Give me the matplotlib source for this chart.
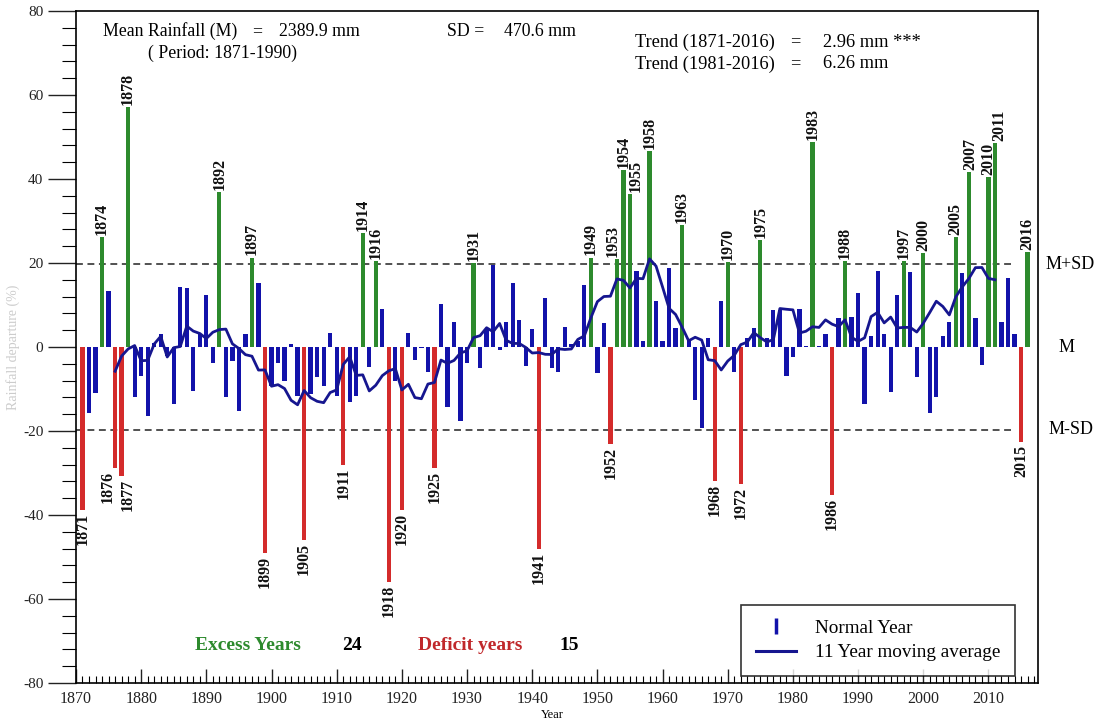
import numpy as np
import pandas as pd
import matplotlib
matplotlib.use('Agg')
import matplotlib.pyplot as plt
from matplotlib.lines import Line2D

plt.rcParams['font.family'] = ['Liberation Serif', 'DejaVu Serif']
plt.rcParams['axes.unicode_minus'] = False

# percentage departure from mean, one value per year 1871-2016
years = np.arange(1871, 2017)
departure = [
    -38.7, -15.7, -10.9, 26.2, 13.4, -28.7, -30.7, 57.1, -12.0,          # 1871-1879
    -6.9, -16.5, 1.0, 3.0, -2.1, -13.5, 14.3, 14.0, -10.4, 3.0,          # 1880s
    12.4, -3.9, 36.9, -12.0, -3.3, -15.3, 3.0, 21.3, 15.2, -49.0,        # 1890s
    -9.2, -3.7, -8.0, 0.6, -11.6, -46.0, -11.2, -7.2, -9.4, 3.4,         # 1900s
    -11.6, -28.1, -13.1, -11.6, 27.2, -4.7, 20.5, 9.1, -56.0, -8.0,      # 1910s
    -38.7, 3.4, -3.1, -0.3, -6.0, -28.7, 10.2, -14.3, 6.0, -17.5,        # 1920s
    -3.9, 20.0, -5.1, 4.4, 19.5, -0.6, 6.0, 15.2, 6.5, -4.5,             # 1930s
    4.2, -48.0, 11.7, -5.0, -6.0, 4.8, 0.6, 1.4, 14.8, 21.3,             # 1940s
    -6.3, 5.6, -23.0, 21.0, 42.2, 36.5, 18.2, 1.4, 46.7, 11.0,           # 1950s
    1.4, 18.9, 4.6, 29.0, 2.0, -12.6, -19.4, 2.2, -31.8, 11.0,           # 1960s
    20.3, -6.0, -32.6, 2.2, 4.6, 25.4, 2.2, 8.7, 8.9, -7.0,              # 1970s
    -2.3, 9.1, 0.3, 48.7, 0.3, 3.0, -35.2, 6.8, 20.5, 7.1,               # 1980s
    12.8, -13.5, 2.6, 18.2, 3.0, -10.6, 12.4, 20.5, 17.8, -7.1,          # 1990s
    22.3, -15.7, -12.0, 2.6, 6.0, 26.2, 17.6, 41.7, 6.8, -4.3,           # 2000s
    40.4, 48.5, 6.0, 16.4, 3.0, -22.6, 22.7,                             # 2010-2016
]
mean_rain = 2389.9
sd_rain = 470.6

dep = pd.Series(departure, index=years)
sd_pct = sd_rain / mean_rain * 100
mov_avg = dep.rolling(11, center=True).mean()

excess = dep >= sd_pct
deficit = dep <= -sd_pct
normal = ~(excess | deficit)

# small sideways nudges so crowded year labels don't collide
label_shift = {1876: -1.1, 1877: 0.9, 1953: -0.6, 1955: 0.8, 2007: 0.3, 2011: 0.7}

fig = plt.figure(figsize=(11.06, 7.21), dpi=100)
ax = fig.add_axes([0.0687, 0.0527, 0.8698, 0.932])

bw = 0.65
blue, green, red = '#1212aa', '#2d8a2d', '#d42b2b'
ax.bar(years[normal], dep[normal], width=bw, color=blue, zorder=2)
ax.bar(years[excess], dep[excess], width=bw, color=green, zorder=2)
ax.bar(years[deficit], dep[deficit], width=bw, color=red, zorder=2)

ax.plot(years, mov_avg, color='#16168f', lw=2.0, zorder=3)

ax.hlines([sd_pct, -sd_pct], 1870, 2013.8, colors='#222222', linestyles=(0, (4.5, 3)),
          lw=1.1, zorder=1)

# year labels on excess and deficit bars
for yr, v in dep[excess].items():
    ax.text(yr + label_shift.get(yr, 0), v + 0.5, str(yr), rotation=90, ha='center',
            va='bottom', fontsize=11.5, fontweight='bold', color='#111111')
for yr, v in dep[deficit].items():
    ax.text(yr + label_shift.get(yr, 0), v - 0.7, str(yr), rotation=90, ha='center',
            va='top', fontsize=11.5, fontweight='bold', color='#111111')

ax.set_xlim(1870, 2017.6)
ax.set_ylim(-80, 80)
ax.set_xticks(np.arange(1870, 2011, 10))
ax.set_xticks(np.arange(1870, 2018, 1), minor=True)
ax.set_yticks(np.arange(-80, 81, 20))
ax.set_yticks(np.arange(-80, 81, 4), minor=True)
ax.tick_params(axis='x', which='major', direction='in', length=10, width=1,
               labelsize=11.5, pad=6, colors='#222222')
ax.tick_params(axis='x', which='minor', direction='in', length=5, width=0.8)
ax.tick_params(axis='y', which='major', direction='out', length=20, width=1,
               labelsize=11, colors='#222222')
ax.tick_params(axis='y', which='minor', direction='out', length=10, width=0.8)
for s in ax.spines.values():
    s.set_linewidth(1.2)

ax.set_xlabel('Year', fontsize=9)
ax.xaxis.set_label_coords(0.495, -0.038)
ax.set_ylabel('Rainfall departure (%)', fontsize=10, color='#cccccc')
ax.yaxis.set_label_coords(-0.058, 0.5)

# header texts
hs = 12.8
ax.text(1874.1, 75.2, 'Mean Rainfall (M)', fontsize=hs, va='center')
ax.text(1897.1, 75.2, '=', fontsize=hs, va='center')
ax.text(1901.2, 75.2, '2389.9 mm', fontsize=hs, va='center')
ax.text(1881.0, 70.0, '( Period: 1871-1990)', fontsize=hs, va='center')
ax.text(1927.0, 75.2, 'SD =', fontsize=hs, va='center')
ax.text(1935.6, 75.2, '470.6 mm', fontsize=hs, va='center')
ax.text(1955.7, 72.6, 'Trend (1871-2016)', fontsize=13.2, va='center')
ax.text(1979.6, 72.6, '=', fontsize=13.2, va='center')
ax.text(1984.6, 72.6, '2.96 mm ***', fontsize=13.2, va='center')
ax.text(1955.7, 67.4, 'Trend (1981-2016)', fontsize=13.2, va='center')
ax.text(1979.6, 67.4, '=', fontsize=13.2, va='center')
ax.text(1984.6, 67.4, '6.26 mm', fontsize=13.2, va='center')

# M / SD labels on the right
ytr = ax.get_yaxis_transform()
ax.text(1.033, sd_pct, 'M+SD', transform=ytr, fontsize=13, ha='center', va='center')
ax.text(1.030, 0, 'M', transform=ytr, fontsize=13, ha='center', va='center')
ax.text(1.034, -sd_pct, 'M-SD', transform=ytr, fontsize=13, ha='center', va='center')

# counts
ax.text(1888.3, -71, 'Excess Years', fontsize=14, fontweight='bold',
        color=green, va='center')
ax.text(1910.8, -71, str(int(excess.sum())), fontsize=14, fontweight='bold', va='center')
ax.text(1922.4, -71, 'Deficit years', fontsize=14, fontweight='bold',
        color='#c0282b', va='center')
ax.text(1944.2, -71, str(int(deficit.sum())), fontsize=14, fontweight='bold', va='center')

handles = [
    Line2D([], [], color=blue, marker='|', markersize=12, mew=2.5, ls='none'),
    Line2D([], [], color='#16168f', lw=2.2),
]
leg = ax.legend(handles, ['Normal Year', '11 Year moving average'],
                loc='lower right', bbox_to_anchor=(0.976, 0.011), fontsize=13.8,
                frameon=True, fancybox=False, edgecolor='black', borderpad=0.75,
                handlelength=2.1, handletextpad=1.0, labelspacing=0.35,
                borderaxespad=0)
leg.get_frame().set_linewidth(1.2)

fig.savefig('out.png', dpi=100)
